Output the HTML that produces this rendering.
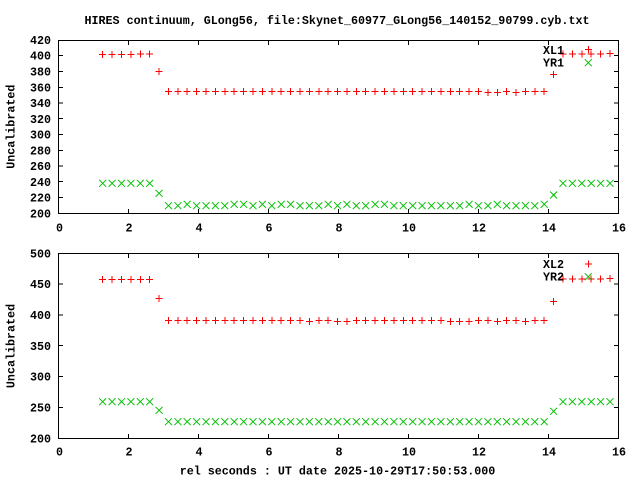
<!DOCTYPE html>
<html><head><meta charset="utf-8"><style>
html,body{margin:0;padding:0;background:#fff;}
svg{display:block;}
text{font-family:"Liberation Mono","DejaVu Sans Mono",monospace;font-weight:bold;font-size:11.7px;fill:#000;}
</style></head><body>
<svg width="640" height="480" viewBox="0 0 640 480" xmlns="http://www.w3.org/2000/svg">
<defs>
<g id="P"><path d="M-3.5 0h7M0 -3.5v7" stroke="#ff0000" stroke-width="1" shape-rendering="crispEdges" fill="none"/></g>
<g id="X"><path d="M-3.5 -3.5l7 7M-3.5 3.5l7 -7" stroke="#00c000" stroke-width="1" fill="none"/></g>
</defs>
<rect width="640" height="480" fill="#fff"/>
<text x="337" y="24" text-anchor="middle">HIRES continuum, GLong56, file:Skynet_60977_GLong56_140152_90799.cyb.txt</text>

<!-- TOP PLOT frame and ticks -->
<g stroke="#000" stroke-width="1" fill="none" shape-rendering="crispEdges">
<rect x="58.5" y="40.5" width="560" height="173"/>
<path d="M128.5 213v-4M128.5 41v4M198.5 213v-4M198.5 41v4M268.5 213v-4M268.5 41v4M338.5 213v-4M338.5 41v4M408.5 213v-4M408.5 41v4M478.5 213v-4M478.5 41v4M548.5 213v-4M548.5 41v4
M59 197.5h4M618 197.5h-4M59 181.5h4M618 181.5h-4M59 166h4M618 166h-4M59 150.5h4M618 150.5h-4M59 134.5h4M618 134.5h-4M59 118.5h4M618 118.5h-4M59 103h4M618 103h-4M59 87.5h4M618 87.5h-4M59 71.5h4M618 71.5h-4M59 55.5h4M618 55.5h-4"/>
</g>
<g text-anchor="end">
<text x="51" y="217.3">200</text>
<text x="51" y="201.5">220</text>
<text x="51" y="185.8">240</text>
<text x="51" y="170">260</text>
<text x="51" y="154.3">280</text>
<text x="51" y="138.5">300</text>
<text x="51" y="122.8">320</text>
<text x="51" y="107">340</text>
<text x="51" y="91.3">360</text>
<text x="51" y="75.5">380</text>
<text x="51" y="59.7">400</text>
<text x="51" y="44">420</text>
</g>
<g text-anchor="middle">
<text x="59.5" y="231.7">0</text>
<text x="129" y="231.7">2</text>
<text x="199" y="231.7">4</text>
<text x="269" y="231.7">6</text>
<text x="339" y="231.7">8</text>
<text x="409" y="231.7">10</text>
<text x="479" y="231.7">12</text>
<text x="549" y="231.7">14</text>
<text x="619" y="231.7">16</text>
</g>
<text transform="translate(14.7,126.7) rotate(-90)" text-anchor="middle">Uncalibrated</text>

<!-- top red -->
<g>
<use href="#P" x="102.7" y="54.7"/><use href="#P" x="112.1" y="54.7"/><use href="#P" x="121.5" y="54.7"/><use href="#P" x="130.9" y="54.7"/><use href="#P" x="140.3" y="54.2"/><use href="#P" x="149.7" y="54.2"/>
<use href="#P" x="159.1" y="71.3"/>
<use href="#P" x="168.5" y="91.3"/><use href="#P" x="177.9" y="91.3"/><use href="#P" x="187.2" y="91.3"/><use href="#P" x="196.6" y="91.3"/><use href="#P" x="206.0" y="91.3"/><use href="#P" x="215.4" y="91.3"/><use href="#P" x="224.8" y="91.3"/><use href="#P" x="234.2" y="91.3"/><use href="#P" x="243.6" y="91.3"/><use href="#P" x="253.0" y="91.3"/>
<use href="#P" x="262.4" y="91.3"/><use href="#P" x="271.8" y="91.3"/><use href="#P" x="281.2" y="91.3"/><use href="#P" x="290.6" y="91.3"/><use href="#P" x="300.0" y="91.3"/><use href="#P" x="309.4" y="91.3"/><use href="#P" x="318.8" y="91.3"/><use href="#P" x="328.2" y="91.3"/><use href="#P" x="337.6" y="91.3"/><use href="#P" x="346.9" y="91.3"/>
<use href="#P" x="356.3" y="91.3"/><use href="#P" x="365.7" y="91.3"/><use href="#P" x="375.1" y="91.3"/><use href="#P" x="384.5" y="91.3"/><use href="#P" x="393.9" y="91.3"/><use href="#P" x="403.3" y="91.3"/><use href="#P" x="412.7" y="91.3"/><use href="#P" x="422.1" y="91.3"/><use href="#P" x="431.5" y="91.3"/><use href="#P" x="440.9" y="91.3"/>
<use href="#P" x="450.3" y="91.3"/><use href="#P" x="459.7" y="91.3"/><use href="#P" x="469.1" y="91.3"/><use href="#P" x="478.5" y="91.3"/><use href="#P" x="487.9" y="92.3"/><use href="#P" x="497.3" y="92.3"/><use href="#P" x="506.6" y="91.3"/><use href="#P" x="516.0" y="92.3"/><use href="#P" x="525.4" y="91.3"/><use href="#P" x="534.8" y="91.3"/><use href="#P" x="544.2" y="91.3"/>
<use href="#P" x="553.6" y="74.3"/>
<use href="#P" x="563.0" y="54.0"/><use href="#P" x="572.4" y="54.0"/><use href="#P" x="581.8" y="54.0"/><use href="#P" x="591.2" y="54.0"/><use href="#P" x="600.6" y="54.0"/><use href="#P" x="610.0" y="53.3"/>
</g>
<!-- top green -->
<g>
<use href="#X" x="102.7" y="183.3"/><use href="#X" x="112.1" y="183.3"/><use href="#X" x="121.5" y="183.3"/><use href="#X" x="130.9" y="183.3"/><use href="#X" x="140.3" y="183.3"/><use href="#X" x="149.7" y="183.3"/>
<use href="#X" x="159.1" y="193.3"/>
<use href="#X" x="168.5" y="205.7"/><use href="#X" x="177.9" y="205.7"/><use href="#X" x="187.2" y="204.3"/><use href="#X" x="196.6" y="205.7"/><use href="#X" x="206.0" y="205.7"/><use href="#X" x="215.4" y="205.7"/><use href="#X" x="224.8" y="205.7"/><use href="#X" x="234.2" y="204.3"/><use href="#X" x="243.6" y="204.3"/><use href="#X" x="253.0" y="205.7"/>
<use href="#X" x="262.4" y="204.3"/><use href="#X" x="271.8" y="205.7"/><use href="#X" x="281.2" y="204.3"/><use href="#X" x="290.6" y="204.3"/><use href="#X" x="300.0" y="205.7"/><use href="#X" x="309.4" y="205.7"/><use href="#X" x="318.8" y="205.7"/><use href="#X" x="328.2" y="204.3"/><use href="#X" x="337.6" y="205.7"/><use href="#X" x="346.9" y="204.3"/>
<use href="#X" x="356.3" y="205.7"/><use href="#X" x="365.7" y="205.7"/><use href="#X" x="375.1" y="204.3"/><use href="#X" x="384.5" y="204.3"/><use href="#X" x="393.9" y="205.7"/><use href="#X" x="403.3" y="205.7"/><use href="#X" x="412.7" y="205.7"/><use href="#X" x="422.1" y="205.7"/><use href="#X" x="431.5" y="205.7"/><use href="#X" x="440.9" y="205.7"/>
<use href="#X" x="450.3" y="205.7"/><use href="#X" x="459.7" y="205.7"/><use href="#X" x="469.1" y="204.3"/><use href="#X" x="478.5" y="205.7"/><use href="#X" x="487.9" y="205.7"/><use href="#X" x="497.3" y="204.3"/><use href="#X" x="506.6" y="205.7"/><use href="#X" x="516.0" y="205.7"/><use href="#X" x="525.4" y="205.7"/><use href="#X" x="534.8" y="205.7"/><use href="#X" x="544.2" y="204.3"/>
<use href="#X" x="553.6" y="195"/>
<use href="#X" x="563.0" y="183.3"/><use href="#X" x="572.4" y="183.3"/><use href="#X" x="581.8" y="183.3"/><use href="#X" x="591.2" y="183.3"/><use href="#X" x="600.6" y="183.3"/><use href="#X" x="610.0" y="183.3"/>
</g>
<!-- top legend -->
<text x="564" y="54" text-anchor="end">XL1</text>
<text x="564" y="66.7" text-anchor="end">YR1</text>
<use href="#P" x="588.3" y="49.3"/>
<use href="#X" x="588.3" y="62.7"/>

<!-- BOTTOM PLOT -->
<g stroke="#000" stroke-width="1" fill="none" shape-rendering="crispEdges">
<rect x="58.5" y="253.5" width="560" height="185"/>
<path d="M128.5 438v-4M128.5 254v4M198.5 438v-4M198.5 254v4M268.5 438v-4M268.5 254v4M338.5 438v-4M338.5 254v4M408.5 438v-4M408.5 254v4M478.5 438v-4M478.5 254v4M548.5 438v-4M548.5 254v4
M59 407.5h4M618 407.5h-4M59 376.5h4M618 376.5h-4M59 345.5h4M618 345.5h-4M59 315h4M618 315h-4M59 284h4M618 284h-4"/>
</g>
<g text-anchor="end">
<text x="51" y="442.3">200</text>
<text x="51" y="411.5">250</text>
<text x="51" y="380.6">300</text>
<text x="51" y="349.8">350</text>
<text x="51" y="319">400</text>
<text x="51" y="288.2">450</text>
<text x="51" y="257.3">500</text>
</g>
<g text-anchor="middle">
<text x="59.5" y="455.7">0</text>
<text x="129" y="455.7">2</text>
<text x="199" y="455.7">4</text>
<text x="269" y="455.7">6</text>
<text x="339" y="455.7">8</text>
<text x="409" y="455.7">10</text>
<text x="479" y="455.7">12</text>
<text x="549" y="455.7">14</text>
<text x="619" y="455.7">16</text>
</g>
<text transform="translate(14.7,346) rotate(-90)" text-anchor="middle">Uncalibrated</text>
<text x="337.5" y="474.7" text-anchor="middle">rel seconds : UT date 2025-10-29T17:50:53.000</text>

<!-- bottom red -->
<g>
<use href="#P" x="102.7" y="279.3"/><use href="#P" x="112.1" y="279.3"/><use href="#P" x="121.5" y="279.3"/><use href="#P" x="130.9" y="279.3"/><use href="#P" x="140.3" y="279.3"/><use href="#P" x="149.7" y="279.3"/>
<use href="#P" x="159.1" y="298.3"/>
<use href="#P" x="168.5" y="320.3"/><use href="#P" x="177.9" y="320.3"/><use href="#P" x="187.2" y="320.3"/><use href="#P" x="196.6" y="320.3"/><use href="#P" x="206.0" y="320.3"/><use href="#P" x="215.4" y="320.3"/><use href="#P" x="224.8" y="320.3"/><use href="#P" x="234.2" y="320.3"/><use href="#P" x="243.6" y="320.3"/><use href="#P" x="253.0" y="320.3"/>
<use href="#P" x="262.4" y="320.3"/><use href="#P" x="271.8" y="320.3"/><use href="#P" x="281.2" y="320.3"/><use href="#P" x="290.6" y="320.3"/><use href="#P" x="300.0" y="320.3"/><use href="#P" x="309.4" y="321.3"/><use href="#P" x="318.8" y="320.3"/><use href="#P" x="328.2" y="320.3"/><use href="#P" x="337.6" y="321.3"/><use href="#P" x="346.9" y="321.3"/>
<use href="#P" x="356.3" y="320.3"/><use href="#P" x="365.7" y="320.3"/><use href="#P" x="375.1" y="320.3"/><use href="#P" x="384.5" y="320.3"/><use href="#P" x="393.9" y="320.3"/><use href="#P" x="403.3" y="320.3"/><use href="#P" x="412.7" y="320.3"/><use href="#P" x="422.1" y="320.3"/><use href="#P" x="431.5" y="320.3"/><use href="#P" x="440.9" y="320.3"/>
<use href="#P" x="450.3" y="321.3"/><use href="#P" x="459.7" y="321.3"/><use href="#P" x="469.1" y="321.3"/><use href="#P" x="478.5" y="320.3"/><use href="#P" x="487.9" y="320.3"/><use href="#P" x="497.3" y="321.3"/><use href="#P" x="506.6" y="320.3"/><use href="#P" x="516.0" y="320.3"/><use href="#P" x="525.4" y="321.3"/><use href="#P" x="534.8" y="320.3"/><use href="#P" x="544.2" y="320.3"/>
<use href="#P" x="553.6" y="301.3"/>
<use href="#P" x="563.0" y="279"/><use href="#P" x="572.4" y="279"/><use href="#P" x="581.8" y="279"/><use href="#P" x="591.2" y="279"/><use href="#P" x="600.6" y="279"/><use href="#P" x="610.0" y="278.5"/>
</g>
<!-- bottom green -->
<g>
<use href="#X" x="102.7" y="401.7"/><use href="#X" x="112.1" y="401.7"/><use href="#X" x="121.5" y="401.7"/><use href="#X" x="130.9" y="401.7"/><use href="#X" x="140.3" y="401.7"/><use href="#X" x="149.7" y="401.7"/>
<use href="#X" x="159.1" y="410.3"/>
<use href="#X" x="168.5" y="421.7"/><use href="#X" x="177.9" y="421.7"/><use href="#X" x="187.2" y="421.7"/><use href="#X" x="196.6" y="421.7"/><use href="#X" x="206.0" y="421.7"/><use href="#X" x="215.4" y="421.7"/><use href="#X" x="224.8" y="421.7"/><use href="#X" x="234.2" y="421.7"/><use href="#X" x="243.6" y="421.7"/><use href="#X" x="253.0" y="421.7"/>
<use href="#X" x="262.4" y="421.7"/><use href="#X" x="271.8" y="421.7"/><use href="#X" x="281.2" y="421.7"/><use href="#X" x="290.6" y="421.7"/><use href="#X" x="300.0" y="421.7"/><use href="#X" x="309.4" y="421.7"/><use href="#X" x="318.8" y="421.7"/><use href="#X" x="328.2" y="421.7"/><use href="#X" x="337.6" y="421.7"/><use href="#X" x="346.9" y="421.7"/>
<use href="#X" x="356.3" y="421.7"/><use href="#X" x="365.7" y="421.7"/><use href="#X" x="375.1" y="421.7"/><use href="#X" x="384.5" y="421.7"/><use href="#X" x="393.9" y="421.7"/><use href="#X" x="403.3" y="421.7"/><use href="#X" x="412.7" y="421.7"/><use href="#X" x="422.1" y="421.7"/><use href="#X" x="431.5" y="421.7"/><use href="#X" x="440.9" y="421.7"/>
<use href="#X" x="450.3" y="421.7"/><use href="#X" x="459.7" y="421.7"/><use href="#X" x="469.1" y="421.7"/><use href="#X" x="478.5" y="421.7"/><use href="#X" x="487.9" y="421.7"/><use href="#X" x="497.3" y="421.7"/><use href="#X" x="506.6" y="421.7"/><use href="#X" x="516.0" y="421.7"/><use href="#X" x="525.4" y="421.7"/><use href="#X" x="534.8" y="421.7"/><use href="#X" x="544.2" y="421.7"/>
<use href="#X" x="553.6" y="411.3"/>
<use href="#X" x="563.0" y="401.7"/><use href="#X" x="572.4" y="401.7"/><use href="#X" x="581.8" y="401.7"/><use href="#X" x="591.2" y="401.7"/><use href="#X" x="600.6" y="401.7"/><use href="#X" x="610.0" y="401.7"/>
</g>
<!-- bottom legend -->
<text x="564" y="268" text-anchor="end">XL2</text>
<text x="564" y="280.7" text-anchor="end">YR2</text>
<use href="#P" x="588.3" y="264"/>
<use href="#X" x="588.3" y="276.7"/>
</svg>
</body></html>
